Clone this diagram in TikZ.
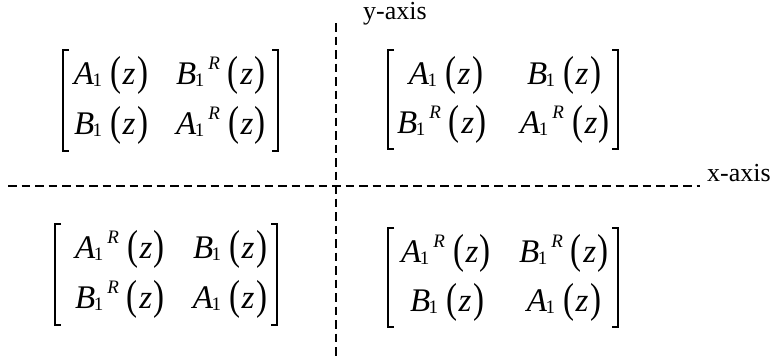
\documentclass[tikz,border=0pt]{standalone}
\usepackage{fontspec}
\setmainfont{Liberation Serif}
\usepackage{graphicx}
\newcommand{\subsz}{\fontsize{19}{19}\selectfont}
\newcommand{\bpar}[1]{\raisebox{-1.5pt}{\scalebox{1}[1.27]{#1}}}
\newcommand{\supR}{\kern4pt\raisebox{15pt}{\subsz\textit{R}}}
\newcommand{\ent}[2]{\textit{#1}\kern-1.5pt\raisebox{-2pt}{\subsz 1}#2\kern8pt\bpar{(}\kern1.5pt\textit{z}\kern1.5pt\bpar{)}}
\tikzset{
  entry/.style={anchor=base, inner sep=0pt, font=\fontsize{33}{38}\selectfont},
  lab/.style={anchor=base west, inner sep=0pt, font=\fontsize{26}{30}\selectfont},
  axisline/.style={line width=2pt, dash pattern=on 8.5pt off 5pt},
  brk/.style={line width=1.3pt}
}
\begin{document}
\begin{tikzpicture}[x=1pt, y=-1pt]
\useasboundingbox (0,0) rectangle (778,360);
% axes
\coordinate (xl) at (8,186);
\coordinate (xr) at (700,186);
\coordinate (yt) at (336,23);
\coordinate (yb) at (336,356);
\draw[axisline] (xl) -- (xr);
\draw[axisline] (yt) -- (yb);
\node[lab] (xlab) at (707,181) {x-axis};
\node[lab] (ylab) at (363,19) {y-axis};
% brackets
\draw[brk] (69,50) -- (63,50) -- (63,151) -- (69,151);
\draw[brk] (272,50) -- (278,50) -- (278,151) -- (272,151);
\draw[brk] (394,50) -- (388,50) -- (388,149) -- (394,149);
\draw[brk] (612,50) -- (618,50) -- (618,149) -- (612,149);
\draw[brk] (61,224) -- (55,224) -- (55,325) -- (61,325);
\draw[brk] (271,224) -- (277,224) -- (277,325) -- (271,325);
\draw[brk] (394,228) -- (388,228) -- (388,327) -- (394,327);
\draw[brk] (612,228) -- (618,228) -- (618,327) -- (612,327);
% top-left
\node[entry] (tla) at (111,84) {\ent{A}{}};
\node[entry] (tlb) at (221,84) {\ent{B}{\supR}};
\node[entry] (tlc) at (111,134) {\ent{B}{}};
\node[entry] (tld) at (221,134) {\ent{A}{\supR}};
% top-right
\node[entry] (tra) at (446,84) {\ent{A}{}};
\node[entry] (trb) at (564,84) {\ent{B}{}};
\node[entry] (trc) at (442,133) {\ent{B}{\supR}};
\node[entry] (trd) at (565,133) {\ent{A}{\supR}};
% bottom-left
\node[entry] (bla) at (120,258) {\ent{A}{\supR}};
\node[entry] (blb) at (230,258) {\ent{B}{}};
\node[entry] (blc) at (120,308) {\ent{B}{\supR}};
\node[entry] (bld) at (230,308) {\ent{A}{}};
% bottom-right
\node[entry] (bra) at (446,262) {\ent{A}{\supR}};
\node[entry] (brb) at (564,262) {\ent{B}{\supR}};
\node[entry] (brc) at (447,311) {\ent{B}{}};
\node[entry] (brd) at (564,311) {\ent{A}{}};
\end{tikzpicture}
\end{document}
